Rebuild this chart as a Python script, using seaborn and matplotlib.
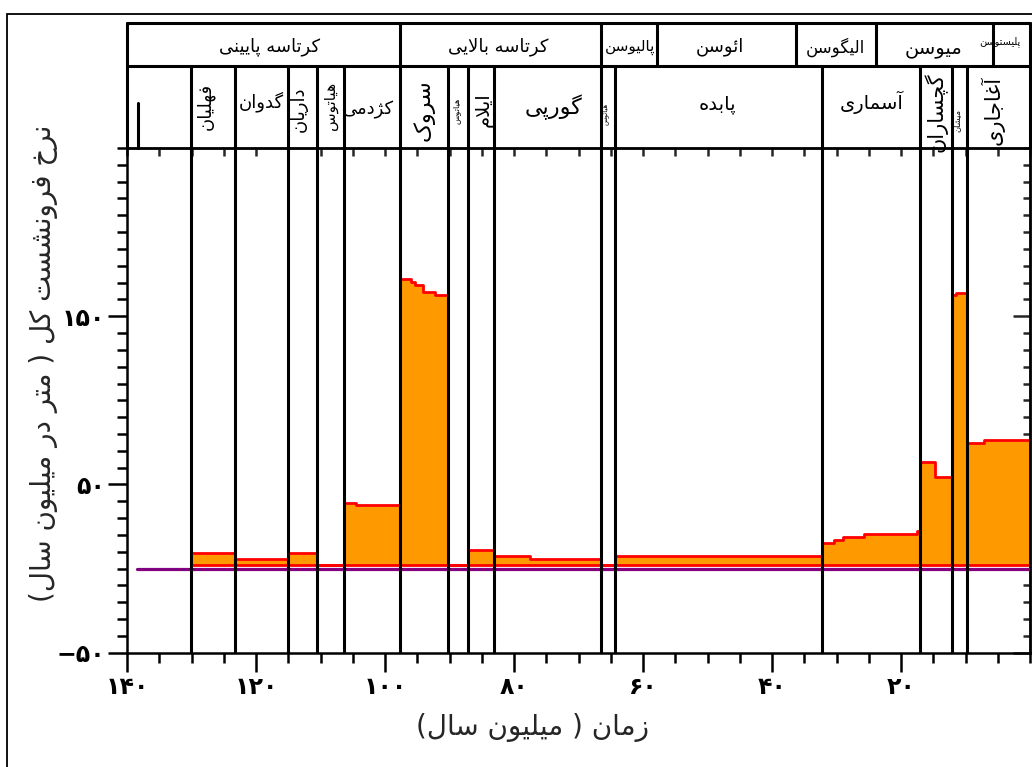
import matplotlib
matplotlib.use("Agg")
import matplotlib.pyplot as plt
from matplotlib.patches import Rectangle
from matplotlib.ticker import FixedLocator, FuncFormatter
import seaborn as sns

# ---------------- data ----------------
# step edges of the total subsidence-rate curve (Ma, old -> young)
step_ages = [130.1, 123.2, 115.0, 110.5, 106.4, 104.5, 97.6, 95.9, 95.4, 94.1,
             92.2, 90.3, 87.1, 83.1, 77.5, 66.5, 64.3, 32.2, 30.4, 29.0,
             25.8, 17.5, 17.1, 14.7, 12.1, 11.4, 9.8, 7.1, 0.0]
# rate for each interval (m/Myr)
step_rates = [9.3, 5.5, 9.3, 2.4, 39.2, 37.5, 172.0, 170.5, 168.5, 164.5,
              162.5, 2.4, 11.2, 7.5, 5.5, 2.4, 7.7, 15.2, 17.0, 18.9,
              20.7, 22.5, 63.5, 54.4, 162.5, 164.0, 74.7, 76.3]

formation_bounds = [130.1, 123.2, 115.0, 110.5, 106.4, 97.6, 90.3, 87.1,
                    83.1, 66.5, 64.3, 32.2, 17.1, 12.1, 9.8]
formation_names = ["فهلیان", "گدوان", "داریان", "هیاتوس", "کژدمی", "سروک",
                   "هیاتوس", "ایلام", "گورپی", "هیاتوس", "پابده", "آسماری",
                   "گچساران", "میشان", "آغاجاری"]

epoch_bounds = [97.6, 66.5, 57.8, 36.3, 23.9, 5.7]
epoch_names = ["کرتاسه پایینی", "کرتاسه بالایی", "پالیوسن", "ائوسن",
               "الیگوسن", "میوسن", "پلیستوسن"]

x_major = [140, 120, 100, 80, 60, 40, 20]
y_major = [-50, 50, 150]

x_label = "زمان ( میلیون سال)"
y_label = "نرخ فرونشست کل ( متر در میلیون سال)"

# ---------------- layout / style ----------------
# (age centre, height in header units, rotation, font size)
formation_layout = [
    (127.8, 42, 90, 13), (119.2, 46, 0, 13), (113.4, 39, 90, 13),
    (108.5, 42, 90, 11), (102.5, 38, 0, 13), (94.0, 38, 90, 16),
    (88.9, 37, 90, 6), (84.7, 38, 90, 14), (73.9, 41, 0, 16),
    (65.9, 34, 90, 5), (48.4, 44, 0, 14), (24.6, 46, 0, 14),
    (14.7, 36, 90, 15), (11.35, 27, 90, 6), (5.8, 38, 90, 15),
]
epoch_layout = [
    (117.9, 101, 13), (82.4, 101, 13), (62.0, 101, 11), (48.1, 101, 13),
    (30.2, 101, 12), (14.9, 100, 14), (4.7, 106, 7),
]

FILL = "#FF9900"
EDGE = "#FF0000"
PURPLE = "#800080"
LW = 2.2

# ---------------- Persian text shaping ----------------
# isolated, final, initial, medial presentation forms
_F = {
    "ا": (0xFE8D, 0xFE8E, None, None), "آ": (0xFE81, 0xFE82, None, None),
    "ب": (0xFE8F, 0xFE90, 0xFE91, 0xFE92), "پ": (0xFB56, 0xFB57, 0xFB58, 0xFB59),
    "ت": (0xFE95, 0xFE96, 0xFE97, 0xFE98), "ج": (0xFE9D, 0xFE9E, 0xFE9F, 0xFEA0),
    "چ": (0xFB7A, 0xFB7B, 0xFB7C, 0xFB7D), "خ": (0xFEA5, 0xFEA6, 0xFEA7, 0xFEA8),
    "د": (0xFEA9, 0xFEAA, None, None), "ر": (0xFEAD, 0xFEAE, None, None),
    "ز": (0xFEAF, 0xFEB0, None, None), "ژ": (0xFB8A, 0xFB8B, None, None),
    "س": (0xFEB1, 0xFEB2, 0xFEB3, 0xFEB4), "ش": (0xFEB5, 0xFEB6, 0xFEB7, 0xFEB8),
    "غ": (0xFECD, 0xFECE, 0xFECF, 0xFED0), "ف": (0xFED1, 0xFED2, 0xFED3, 0xFED4),
    "ک": (0xFB8E, 0xFB8F, 0xFB90, 0xFB91), "گ": (0xFB92, 0xFB93, 0xFB94, 0xFB95),
    "ل": (0xFEDD, 0xFEDE, 0xFEDF, 0xFEE0), "م": (0xFEE1, 0xFEE2, 0xFEE3, 0xFEE4),
    "ن": (0xFEE5, 0xFEE6, 0xFEE7, 0xFEE8), "و": (0xFEED, 0xFEEE, None, None),
    "ه": (0xFEE9, 0xFEEA, 0xFEEB, 0xFEEC), "ی": (0xFBFC, 0xFBFD, 0xFBFE, 0xFBFF),
    "ئ": (0xFE89, 0xFE8A, 0xFE8B, 0xFE8C),
}
_LAM_ALEF = {"ا": (0xFEFB, 0xFEFC), "آ": (0xFEF5, 0xFEF6)}
_MIRROR = {"(": ")", ")": "("}


def _joins_next(ch):
    return ch in _F and _F[ch][2] is not None


def fa(text):
    """Shape Persian text into presentation forms in visual order."""
    out = []
    chars = list(text)
    i = 0
    n = len(chars)
    while i < n:
        c = chars[i]
        prev = chars[i - 1] if i > 0 else None
        link_prev = prev is not None and _joins_next(prev)
        if c == "ل" and i + 1 < n and chars[i + 1] in _LAM_ALEF:
            iso, fin = _LAM_ALEF[chars[i + 1]]
            out.append(chr(fin if link_prev else iso))
            i += 2
            continue
        if c in _F:
            nxt = chars[i + 1] if i + 1 < n else None
            link_next = _joins_next(c) and nxt in _F
            iso, fin, ini, med = _F[c]
            if link_prev and link_next:
                code = med
            elif link_prev:
                code = fin
            elif link_next:
                code = ini
            else:
                code = iso
            out.append(chr(code))
        else:
            out.append(_MIRROR.get(c, c))
        i += 1
    return "".join(reversed(out))


_DIG = str.maketrans("0123456789-", "۰۱۲۳۴۵۶۷۸۹−")


def fa_num(v, _pos=None):
    return str(int(round(v))).translate(_DIG)


# ---------------- figure ----------------
sns.set_theme(style="ticks")
plt.rcParams["font.family"] = ["DejaVu Sans"]
plt.rcParams["axes.linewidth"] = 1.8

W, H = 1032, 767
fig = plt.figure(figsize=(W / 100, H / 100), dpi=100)


def fx(px):
    return px / W


def fy(py):
    return 1 - py / H


ax = fig.add_axes([fx(127), fy(652.7), fx(1030 - 127), (652.7 - 148) / H])
ax.set_xlim(140, 0)
ax.set_ylim(-50, 250)
ax.set_facecolor("white")

rates_ext = step_rates + [step_rates[-1]]
ax.fill_between(step_ages, 2.0, rates_ext, step="post", facecolor=FILL,
                edgecolor=EDGE, linewidth=2.0, zorder=2)
sns.lineplot(x=[138.4, 0.0], y=[0.0, 0.0], color=PURPLE, linewidth=2.3,
             sort=False, ax=ax, zorder=3)

for b in formation_bounds:
    ax.axvline(b, color="black", linewidth=LW, zorder=4)

ax.xaxis.set_major_locator(FixedLocator(x_major))
ax.xaxis.set_minor_locator(FixedLocator(list(range(0, 141, 5))))
ax.yaxis.set_major_locator(FixedLocator(y_major))
ax.yaxis.set_minor_locator(FixedLocator(list(range(-50, 251, 10))))
ax.xaxis.set_major_formatter(FuncFormatter(fa_num))
ax.yaxis.set_major_formatter(FuncFormatter(fa_num))
ax.tick_params(axis="both", which="major", direction="out", length=14,
               width=1.8, labelsize=17, pad=2, colors="black")
ax.tick_params(axis="both", which="minor", direction="out", length=7,
               width=1.8, colors="black")
for lab in ax.get_xticklabels() + ax.get_yticklabels():
    lab.set_fontweight("bold")
ax.set_xlabel("")
ax.set_ylabel("")
for s in ax.spines.values():
    s.set_visible(True)
    s.set_linewidth(1.8)
    s.set_color("black")

top = ax.secondary_xaxis("top")
top.xaxis.set_major_locator(FixedLocator(list(range(0, 141, 5))))
top.tick_params(direction="in", length=6, width=1.8, labeltop=False,
                labelbottom=False)
right = ax.secondary_yaxis("right")
right.yaxis.set_major_locator(FixedLocator(y_major))
right.yaxis.set_minor_locator(FixedLocator(list(range(-50, 251, 10))))
right.tick_params(which="major", direction="in", length=12, width=1.8,
                  labelright=False, labelleft=False)
right.tick_params(which="minor", direction="in", length=5, width=1.8)

# ---------------- stratigraphic header ----------------
hax = fig.add_axes([fx(127), fy(148), fx(1030 - 127), (148 - 23) / H])
hax.set_xlim(140, 0)
hax.set_ylim(0, 125)
hax.axis("off")
hk = dict(color="black", linewidth=LW, clip_on=False)
hax.plot([140, 0], [125, 125], **hk)
hax.plot([140, 0], [82, 82], **hk)
hax.plot([140, 140], [0, 125], **hk)
hax.plot([0, 0], [0, 125], **hk)
hax.plot([138.3, 138.3], [0, 45], **hk)
for b in formation_bounds:
    hax.plot([b, b], [0, 82], **hk)
for b in epoch_bounds:
    hax.plot([b, b], [82, 125], **hk)

for name, (xa, ya, rot, size) in zip(formation_names, formation_layout):
    hax.text(xa, ya, fa(name), rotation=rot, fontsize=size, ha="center",
             va="center", color="black")
for name, (xa, ya, size) in zip(epoch_names, epoch_layout):
    hax.text(xa, ya, fa(name), fontsize=size, ha="center", va="center",
             color="black")

# ---------------- axis titles ----------------
fig.text(fx(533), fy(728), fa(x_label), fontsize=20, ha="center", va="center")
fig.text(fx(44), fy(363), fa(y_label), fontsize=20, rotation=90,
         ha="center", va="center")

# outer frame
fig.add_artist(Rectangle((fx(7), -0.1), 1.2, fy(14) + 0.1, fill=False,
                         edgecolor="black", linewidth=1.3,
                         transform=fig.transFigure))

fig.savefig("out.png", dpi=100, facecolor="white")
